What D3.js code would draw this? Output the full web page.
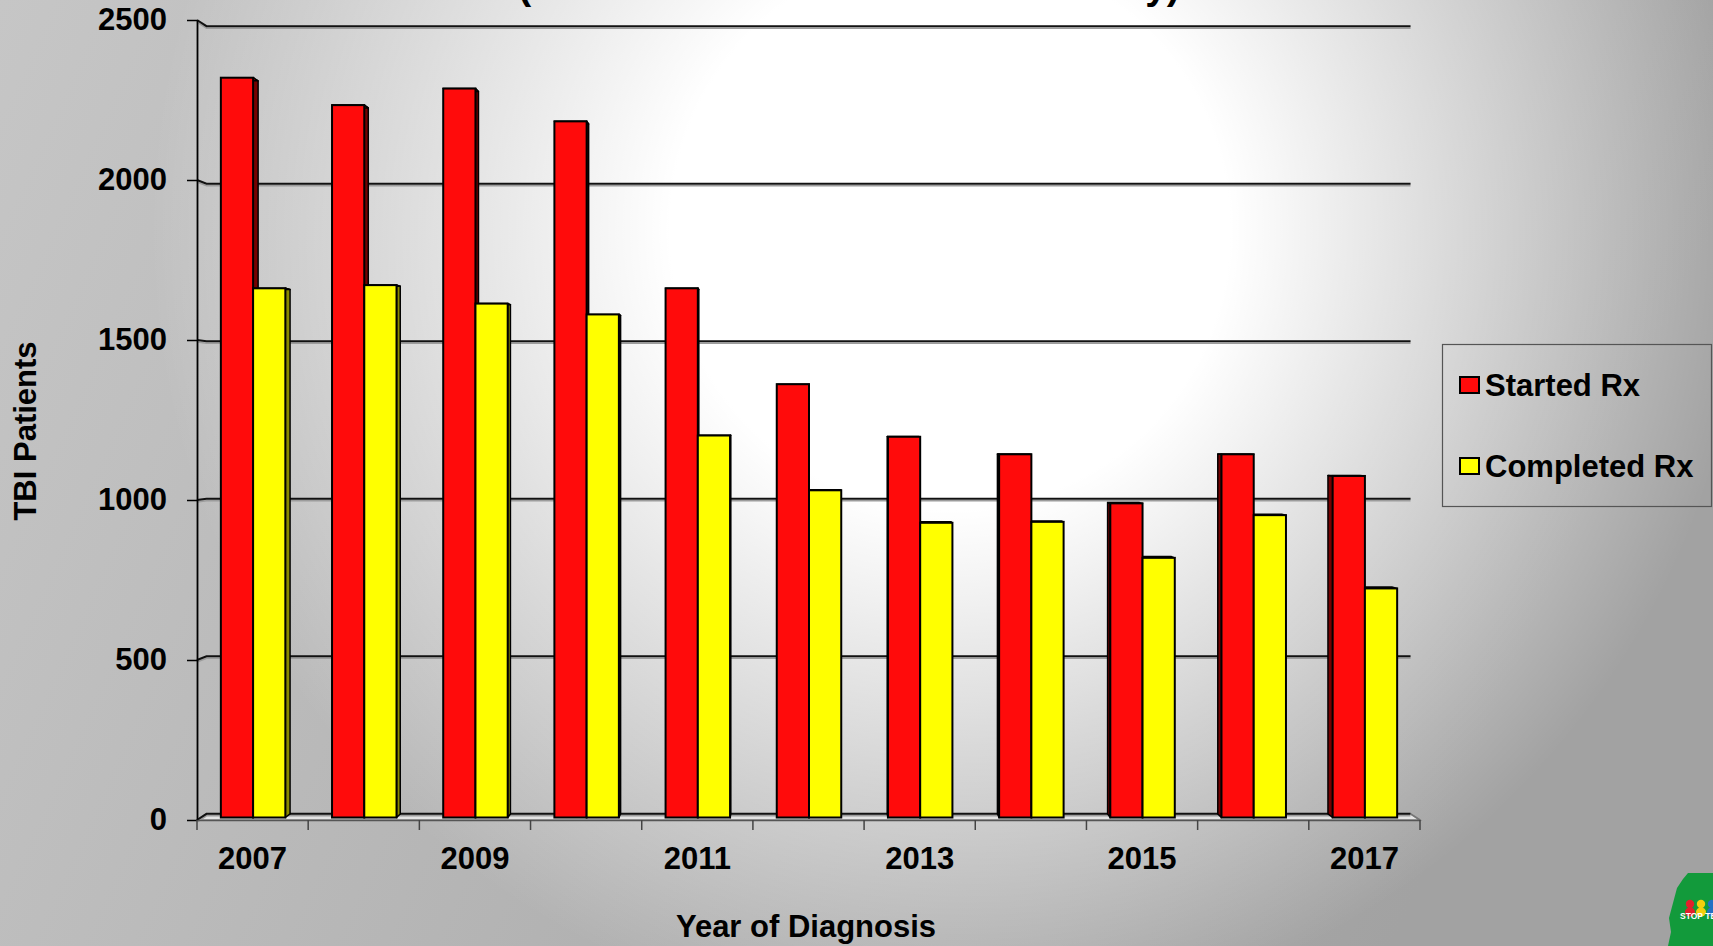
<!DOCTYPE html>
<html>
<head>
<meta charset="utf-8">
<script src="https://cdn.jsdelivr.net/npm/d3@7/dist/d3.min.js"></script>
<style>
  html, body { margin: 0; padding: 0; overflow: hidden; background: #c0c0c0; }
  svg { display: block; }
  text { font-family: "Liberation Sans", Arial, sans-serif; font-weight: bold; fill: #000; }
</style>
</head>
<body>
<svg id="chart" width="1713" height="946"></svg>
<script>
// ---------------- data ----------------
const years = [2007, 2008, 2009, 2010, 2011, 2012, 2013, 2014, 2015, 2016, 2017];
const startedRx = [2322, 2236, 2288, 2185, 1661, 1360, 1195, 1140, 986, 1140, 1072];
const completedRx = [1661, 1671, 1613, 1579, 1199, 1027, 925, 928, 815, 949, 719];
const seriesNames = ["Started Rx", "Completed Rx"];
const yTickValues = [0, 500, 1000, 1500, 2000, 2500];
const xLabelYears = [2007, 2009, 2011, 2013, 2015, 2017];
const titleText = "(TBI Treatment Outcomes Annually)";
const yAxisTitle = "TBI Patients";
const xAxisTitle = "Year of Diagnosis";

// ---------------- setup ----------------
const W = 1713, H = 946;
const svg = d3.select("#chart");
const defs = svg.append("defs");

const base = defs.append("linearGradient").attr("id", "bgBase")
  .attr("x1", "0").attr("y1", "0").attr("x2", "1").attr("y2", "0.25");
base.append("stop").attr("offset", "0").attr("stop-color", "#c6c6c6");
base.append("stop").attr("offset", "1").attr("stop-color", "#a2a2a2");

const glow = defs.append("radialGradient").attr("id", "bgGlow")
  .attr("gradientUnits", "userSpaceOnUse")
  .attr("cx", 950).attr("cy", 230).attr("r", 800);
glow.append("stop").attr("offset", "0").attr("stop-color", "#fff").attr("stop-opacity", 1);
glow.append("stop").attr("offset", "0.35").attr("stop-color", "#fff").attr("stop-opacity", 1);
glow.append("stop").attr("offset", "1").attr("stop-color", "#fff").attr("stop-opacity", 0);

svg.append("rect").attr("width", W).attr("height", H).attr("fill", "url(#bgBase)");
svg.append("rect").attr("width", W).attr("height", H).attr("fill", "url(#bgGlow)");

// ---------------- scales ----------------
const X0 = 197, X1 = 1420;
const x = d3.scaleBand().domain(years).range([X0, X1]).paddingInner(0).paddingOuter(0);
const bw = x.bandwidth();
const pairW = bw * 0.58;
const xs = d3.scaleBand().domain(seriesNames).range([0, pairW]);
const yFront = d3.scaleLinear().domain([0, 2500]).range([820, 20]);
const yBar = d3.scaleLinear().domain([0, 2500]).range([817.5, 21]);

// perspective helpers
const VP = [810, 420];
function proj(px, py, s) { return [px + s * (VP[0] - px), py + s * (VP[1] - py)]; }
const sWall = 0.0155, sBar = 0.009;

// ---------------- floor ----------------
const fl = [[X0, 820], [X1, 820], proj(X1, 820, sWall), proj(X0, 820, sWall)];
svg.append("polygon").attr("points", fl.map(p => p.join(",")).join(" "))
  .attr("fill", "#e4e4e4").attr("stroke", "#8a8a8a").attr("stroke-width", 1.5);

// ---------------- gridlines (back wall) ----------------
const grid = svg.append("g");
yTickValues.forEach(v => {
  const yy = yFront(v);
  const a = proj(X0, yy, sWall), b = proj(X1, yy, sWall);
  const line = d3.line();
  grid.append("path").attr("d", line([[X0, yy + 2], [a[0], a[1] + 2], [b[0], b[1] + 2]]))
    .attr("fill", "none").attr("stroke", "#9c9c9c").attr("stroke-width", 1.5);
  grid.append("path").attr("d", line([[X0, yy], a, b]))
    .attr("fill", "none").attr("stroke", "#111").attr("stroke-width", 2);
});
// right floor edge
{
  const b = proj(X1, 820, sWall);
  svg.append("line").attr("x1", b[0]).attr("y1", b[1]).attr("x2", X1).attr("y2", 820)
    .attr("stroke", "#777").attr("stroke-width", 1.5);
}

// ---------------- bars ----------------
const seriesData = [
  { name: seriesNames[0], values: startedRx, front: "#ff0b0b", side: "#760000", top: "#d00000" },
  { name: seriesNames[1], values: completedRx, front: "#ffff00", side: "#8a8a00", top: "#d8d800" }
];
const bars = [];
years.forEach((yr, i) => {
  const start = x(yr) + (bw - pairW) / 2 + 0.5;
  seriesData.forEach(s => {
    const x0 = start + xs(s.name), x1 = x0 + xs.bandwidth();
    bars.push({ x0, x1, yt: yBar(s.values[i]), yb: yBar(0), s });
  });
});
const sides = svg.append("g"), fronts = svg.append("g");
const pts = arr => arr.map(p => p.join(",")).join(" ");
bars.forEach(b => {
  const cx = (b.x0 + b.x1) / 2;
  const xe = cx < VP[0] ? b.x1 : b.x0;
  const t1 = proj(xe, b.yt, sBar), b1 = proj(xe, b.yb, sBar);
  sides.append("polygon").attr("points", pts([[xe, b.yt], t1, b1, [xe, b.yb]]))
    .attr("fill", b.s.side).attr("stroke", "#000").attr("stroke-width", 1.5).attr("stroke-linejoin", "round");
  const tl = proj(b.x0, b.yt, sBar), tr = proj(b.x1, b.yt, sBar);
  sides.append("polygon").attr("points", pts([[b.x0, b.yt], [b.x1, b.yt], tr, tl]))
    .attr("fill", b.s.top).attr("stroke", "#000").attr("stroke-width", 1.5).attr("stroke-linejoin", "round");
});
bars.forEach(b => {
  fronts.append("rect").attr("x", b.x0).attr("y", b.yt).attr("width", b.x1 - b.x0).attr("height", b.yb - b.yt)
    .attr("fill", b.s.front).attr("stroke", "#000").attr("stroke-width", 2);
});

// ---------------- axes ----------------
const yAxis = d3.axisLeft(yFront).tickValues(yTickValues).tickSize(10).tickSizeOuter(0).tickPadding(20)
  .tickFormat(d3.format("d"));
const gy = svg.append("g").attr("transform", `translate(${X0},0)`).call(yAxis);
gy.select(".domain").attr("stroke", "#000").attr("stroke-width", 1.8);
gy.selectAll(".tick line").attr("stroke", "#000").attr("stroke-width", 1.5);
gy.selectAll(".tick text").attr("font-size", 31).attr("font-family", "Liberation Sans, Arial, sans-serif")
  .attr("font-weight", "bold").attr("fill", "#000");

const xAxis = d3.axisBottom(x).tickValues(xLabelYears).tickSize(0).tickPadding(27).tickSizeOuter(0);
const gx = svg.append("g").attr("transform", "translate(0,820)").call(xAxis);
gx.select(".domain").attr("stroke", "#555").attr("stroke-width", 1.5);
gx.selectAll(".tick text").attr("font-size", 31).attr("font-family", "Liberation Sans, Arial, sans-serif")
  .attr("font-weight", "bold").attr("fill", "#000");
// boundary ticks between categories
const bounds = years.map(yr => x(yr)).concat([X1]);
gx.selectAll(".bound").data(bounds).enter().append("line").attr("class", "bound")
  .attr("x1", d => d).attr("x2", d => d).attr("y1", 0).attr("y2", 10)
  .attr("stroke", "#444").attr("stroke-width", 1.5);

// axis titles
svg.append("text").attr("transform", "translate(36,431) rotate(-90)")
  .attr("text-anchor", "middle").attr("font-size", 31).text(yAxisTitle);
svg.append("text").attr("x", 806).attr("y", 937)
  .attr("text-anchor", "middle").attr("font-size", 31).text(xAxisTitle);

// cut-off title
svg.append("text").attr("x", 849).attr("y", -1).attr("text-anchor", "middle")
  .attr("font-size", 39).text(titleText);

// ---------------- legend ----------------
const lg = svg.append("g");
lg.append("rect").attr("x", 1442.5).attr("y", 344.5).attr("width", 269).attr("height", 162)
  .attr("fill", "none").attr("stroke", "#555").attr("stroke-width", 1.2);
const legendY = [385, 466];
seriesData.forEach((s, i) => {
  lg.append("rect").attr("x", 1460).attr("y", legendY[i] - 8).attr("width", 19).attr("height", 16)
    .attr("fill", s.front).attr("stroke", "#000").attr("stroke-width", 2);
  lg.append("text").attr("x", 1485).attr("y", legendY[i] + 11).attr("font-size", 31).text(s.name);
});

// ---------------- logo (bottom-right) ----------------
const logo = svg.append("g");
logo.append("path").attr("d", "M1688,873 L1713,873 L1713,946 L1668,946 L1671,932 L1669,918 L1673,903 L1677,888 L1683,879 Z")
  .attr("fill", "#129a3b");
[["#e3202b", 1690], ["#f4cf0c", 1701], ["#2370c4", 1712]].forEach(([c, cx]) => {
  logo.append("circle").attr("cx", cx).attr("cy", 904).attr("r", 4.2).attr("fill", c);
  logo.append("ellipse").attr("cx", cx).attr("cy", 912).attr("rx", 5).attr("ry", 4.5).attr("fill", c);
});
logo.append("text").attr("x", 1680).attr("y", 919).attr("font-size", 8.5).style("fill", "#fff").text("STOP TB");
</script>
</body>
</html>
